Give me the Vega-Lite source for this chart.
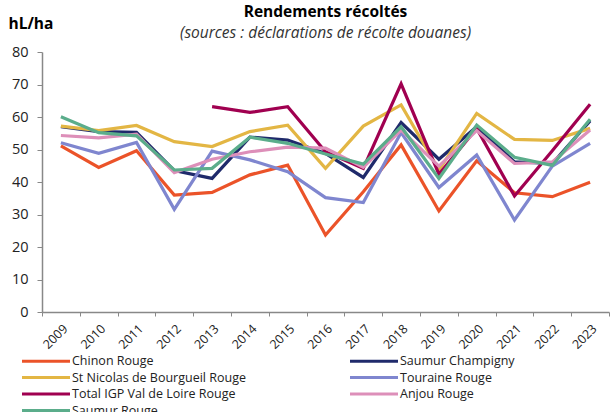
{
  "$schema": "https://vega.github.io/schema/vega-lite/v6.json",
  "autosize": {"type": "none"},
  "width": 567,
  "height": 260,
  "padding": {"left": 42, "top": 52, "right": 2, "bottom": 100},
  "background": "white",
  "config": {
    "font": "Open Sans",
    "view": {"stroke": null}
  },
  "title": {
    "text": "Rendements récoltés",
    "subtitle": "(sources : déclarations de récolte douanes)",
    "anchor": "middle",
    "fontSize": 15.5,
    "fontWeight": "bold",
    "color": "#000000",
    "subtitleFontSize": 15.5,
    "subtitleFontStyle": "italic",
    "subtitleColor": "#333333",
    "subtitlePadding": 5,
    "offset": -25
  },
  "data": {
    "values": [
      {"serie": "Chinon Rouge", "annee": "2009", "v": 51.1},
      {"serie": "Chinon Rouge", "annee": "2010", "v": 44.5},
      {"serie": "Chinon Rouge", "annee": "2011", "v": 49.6},
      {"serie": "Chinon Rouge", "annee": "2012", "v": 36.0},
      {"serie": "Chinon Rouge", "annee": "2013", "v": 36.8},
      {"serie": "Chinon Rouge", "annee": "2014", "v": 42.2},
      {"serie": "Chinon Rouge", "annee": "2015", "v": 45.2},
      {"serie": "Chinon Rouge", "annee": "2016", "v": 23.7},
      {"serie": "Chinon Rouge", "annee": "2017", "v": 37.0},
      {"serie": "Chinon Rouge", "annee": "2018", "v": 51.4},
      {"serie": "Chinon Rouge", "annee": "2019", "v": 31.1},
      {"serie": "Chinon Rouge", "annee": "2020", "v": 46.5},
      {"serie": "Chinon Rouge", "annee": "2021", "v": 36.7},
      {"serie": "Chinon Rouge", "annee": "2022", "v": 35.5},
      {"serie": "Chinon Rouge", "annee": "2023", "v": 39.9},
      {"serie": "Saumur Champigny", "annee": "2009", "v": 57.0},
      {"serie": "Saumur Champigny", "annee": "2010", "v": 55.5},
      {"serie": "Saumur Champigny", "annee": "2011", "v": 55.3},
      {"serie": "Saumur Champigny", "annee": "2012", "v": 43.5},
      {"serie": "Saumur Champigny", "annee": "2013", "v": 41.1},
      {"serie": "Saumur Champigny", "annee": "2014", "v": 53.8},
      {"serie": "Saumur Champigny", "annee": "2015", "v": 52.9},
      {"serie": "Saumur Champigny", "annee": "2016", "v": 48.8},
      {"serie": "Saumur Champigny", "annee": "2017", "v": 41.4},
      {"serie": "Saumur Champigny", "annee": "2018", "v": 58.3},
      {"serie": "Saumur Champigny", "annee": "2019", "v": 47.0},
      {"serie": "Saumur Champigny", "annee": "2020", "v": 57.0},
      {"serie": "Saumur Champigny", "annee": "2021", "v": 46.2},
      {"serie": "Saumur Champigny", "annee": "2022", "v": 45.7},
      {"serie": "Saumur Champigny", "annee": "2023", "v": 58.8},
      {"serie": "St Nicolas de Bourgueil Rouge", "annee": "2009", "v": 57.2},
      {"serie": "St Nicolas de Bourgueil Rouge", "annee": "2010", "v": 55.8},
      {"serie": "St Nicolas de Bourgueil Rouge", "annee": "2011", "v": 57.4},
      {"serie": "St Nicolas de Bourgueil Rouge", "annee": "2012", "v": 52.4},
      {"serie": "St Nicolas de Bourgueil Rouge", "annee": "2013", "v": 50.9},
      {"serie": "St Nicolas de Bourgueil Rouge", "annee": "2014", "v": 55.5},
      {"serie": "St Nicolas de Bourgueil Rouge", "annee": "2015", "v": 57.5},
      {"serie": "St Nicolas de Bourgueil Rouge", "annee": "2016", "v": 44.2},
      {"serie": "St Nicolas de Bourgueil Rouge", "annee": "2017", "v": 57.2},
      {"serie": "St Nicolas de Bourgueil Rouge", "annee": "2018", "v": 63.7},
      {"serie": "St Nicolas de Bourgueil Rouge", "annee": "2019", "v": 43.7},
      {"serie": "St Nicolas de Bourgueil Rouge", "annee": "2020", "v": 61.1},
      {"serie": "St Nicolas de Bourgueil Rouge", "annee": "2021", "v": 53.1},
      {"serie": "St Nicolas de Bourgueil Rouge", "annee": "2022", "v": 52.8},
      {"serie": "St Nicolas de Bourgueil Rouge", "annee": "2023", "v": 56.5},
      {"serie": "Touraine Rouge", "annee": "2009", "v": 52.1},
      {"serie": "Touraine Rouge", "annee": "2010", "v": 48.8},
      {"serie": "Touraine Rouge", "annee": "2011", "v": 52.2},
      {"serie": "Touraine Rouge", "annee": "2012", "v": 31.6},
      {"serie": "Touraine Rouge", "annee": "2013", "v": 49.5},
      {"serie": "Touraine Rouge", "annee": "2014", "v": 46.8},
      {"serie": "Touraine Rouge", "annee": "2015", "v": 43.2},
      {"serie": "Touraine Rouge", "annee": "2016", "v": 35.2},
      {"serie": "Touraine Rouge", "annee": "2017", "v": 33.7},
      {"serie": "Touraine Rouge", "annee": "2018", "v": 55.2},
      {"serie": "Touraine Rouge", "annee": "2019", "v": 38.3},
      {"serie": "Touraine Rouge", "annee": "2020", "v": 48.3},
      {"serie": "Touraine Rouge", "annee": "2021", "v": 28.3},
      {"serie": "Touraine Rouge", "annee": "2022", "v": 44.9},
      {"serie": "Touraine Rouge", "annee": "2023", "v": 51.9},
      {"serie": "Total IGP Val de Loire Rouge", "annee": "2013", "v": 63.2},
      {"serie": "Total IGP Val de Loire Rouge", "annee": "2014", "v": 61.4},
      {"serie": "Total IGP Val de Loire Rouge", "annee": "2015", "v": 63.2},
      {"serie": "Total IGP Val de Loire Rouge", "annee": "2016", "v": 49.3},
      {"serie": "Total IGP Val de Loire Rouge", "annee": "2017", "v": 44.2},
      {"serie": "Total IGP Val de Loire Rouge", "annee": "2018", "v": 70.2},
      {"serie": "Total IGP Val de Loire Rouge", "annee": "2019", "v": 42.4},
      {"serie": "Total IGP Val de Loire Rouge", "annee": "2020", "v": 56.5},
      {"serie": "Total IGP Val de Loire Rouge", "annee": "2021", "v": 35.7},
      {"serie": "Total IGP Val de Loire Rouge", "annee": "2022", "v": 49.6},
      {"serie": "Total IGP Val de Loire Rouge", "annee": "2023", "v": 63.9},
      {"serie": "Anjou Rouge", "annee": "2009", "v": 54.3},
      {"serie": "Anjou Rouge", "annee": "2010", "v": 53.6},
      {"serie": "Anjou Rouge", "annee": "2011", "v": 54.7},
      {"serie": "Anjou Rouge", "annee": "2012", "v": 42.9},
      {"serie": "Anjou Rouge", "annee": "2013", "v": 47.0},
      {"serie": "Anjou Rouge", "annee": "2014", "v": 49.3},
      {"serie": "Anjou Rouge", "annee": "2015", "v": 50.7},
      {"serie": "Anjou Rouge", "annee": "2016", "v": 50.4},
      {"serie": "Anjou Rouge", "annee": "2017", "v": 44.5},
      {"serie": "Anjou Rouge", "annee": "2018", "v": 56.0},
      {"serie": "Anjou Rouge", "annee": "2019", "v": 44.9},
      {"serie": "Anjou Rouge", "annee": "2020", "v": 55.8},
      {"serie": "Anjou Rouge", "annee": "2021", "v": 45.7},
      {"serie": "Anjou Rouge", "annee": "2022", "v": 46.2},
      {"serie": "Anjou Rouge", "annee": "2023", "v": 56.0},
      {"serie": "Saumur Rouge", "annee": "2009", "v": 60.1},
      {"serie": "Saumur Rouge", "annee": "2010", "v": 55.2},
      {"serie": "Saumur Rouge", "annee": "2011", "v": 54.2},
      {"serie": "Saumur Rouge", "annee": "2012", "v": 43.7},
      {"serie": "Saumur Rouge", "annee": "2013", "v": 44.2},
      {"serie": "Saumur Rouge", "annee": "2014", "v": 53.8},
      {"serie": "Saumur Rouge", "annee": "2015", "v": 51.9},
      {"serie": "Saumur Rouge", "annee": "2016", "v": 48.6},
      {"serie": "Saumur Rouge", "annee": "2017", "v": 45.5},
      {"serie": "Saumur Rouge", "annee": "2018", "v": 57.0},
      {"serie": "Saumur Rouge", "annee": "2019", "v": 41.1},
      {"serie": "Saumur Rouge", "annee": "2020", "v": 57.5},
      {"serie": "Saumur Rouge", "annee": "2021", "v": 47.6},
      {"serie": "Saumur Rouge", "annee": "2022", "v": 45.1},
      {"serie": "Saumur Rouge", "annee": "2023", "v": 59.3}
    ]
  },
  "mark": {"type": "line", "strokeWidth": 3.2, "strokeJoin": "miter"},
  "encoding": {
    "x": {
      "field": "annee",
      "type": "ordinal",
      "scale": {"type": "band", "paddingInner": 0, "paddingOuter": 0},
      "axis": {
        "title": null,
        "labelAngle": -45,
        "labelFontSize": 12.5,
        "labelColor": "#222222",
        "tickBand": "extent",
        "domainColor": "#888888",
        "domainWidth": 1.5,
        "tickColor": "#888888",
        "tickSize": 4,
        "labelPadding": 6
      }
    },
    "y": {
      "field": "v",
      "type": "quantitative",
      "scale": {"domain": [0, 80], "nice": false},
      "axis": {
        "title": "hL/ha",
        "titleAngle": 0,
        "titleAlign": "left",
        "titleBaseline": "alphabetic",
        "titleX": -34,
        "titleY": -24,
        "titleFontSize": 15.5,
        "titleFontWeight": "bold",
        "titleColor": "#000000",
        "values": [0, 10, 20, 30, 40, 50, 60, 70, 80],
        "grid": false,
        "labelFontSize": 14.5,
        "labelColor": "#222222",
        "domainColor": "#888888",
        "domainWidth": 1.5,
        "tickColor": "#888888",
        "tickSize": 5,
        "labelPadding": 9
      }
    },
    "color": {
      "field": "serie",
      "type": "nominal",
      "scale": {
        "domain": ["Chinon Rouge", "Saumur Champigny", "St Nicolas de Bourgueil Rouge", "Touraine Rouge", "Total IGP Val de Loire Rouge", "Anjou Rouge", "Saumur Rouge"],
        "range": ["#EB5329", "#1F2A6B", "#E3B644", "#7F86CF", "#A00050", "#DD8FB9", "#5BAD8B"]
      },
      "legend": {
        "title": null,
        "orient": "none",
        "legendX": -27,
        "legendY": 302,
        "direction": "horizontal",
        "columns": 2,
        "columnPadding": 97,
        "rowPadding": 2.5,
        "symbolType": "M0,0H9.6",
        "symbolSize": 100,
        "symbolStrokeWidth": 3.2,
        "labelFontSize": 12.5,
        "labelColor": "#222222",
        "labelOffset": 43,
        "labelLimit": 300
      }
    },
    "order": {"field": "annee"}
  }
}
